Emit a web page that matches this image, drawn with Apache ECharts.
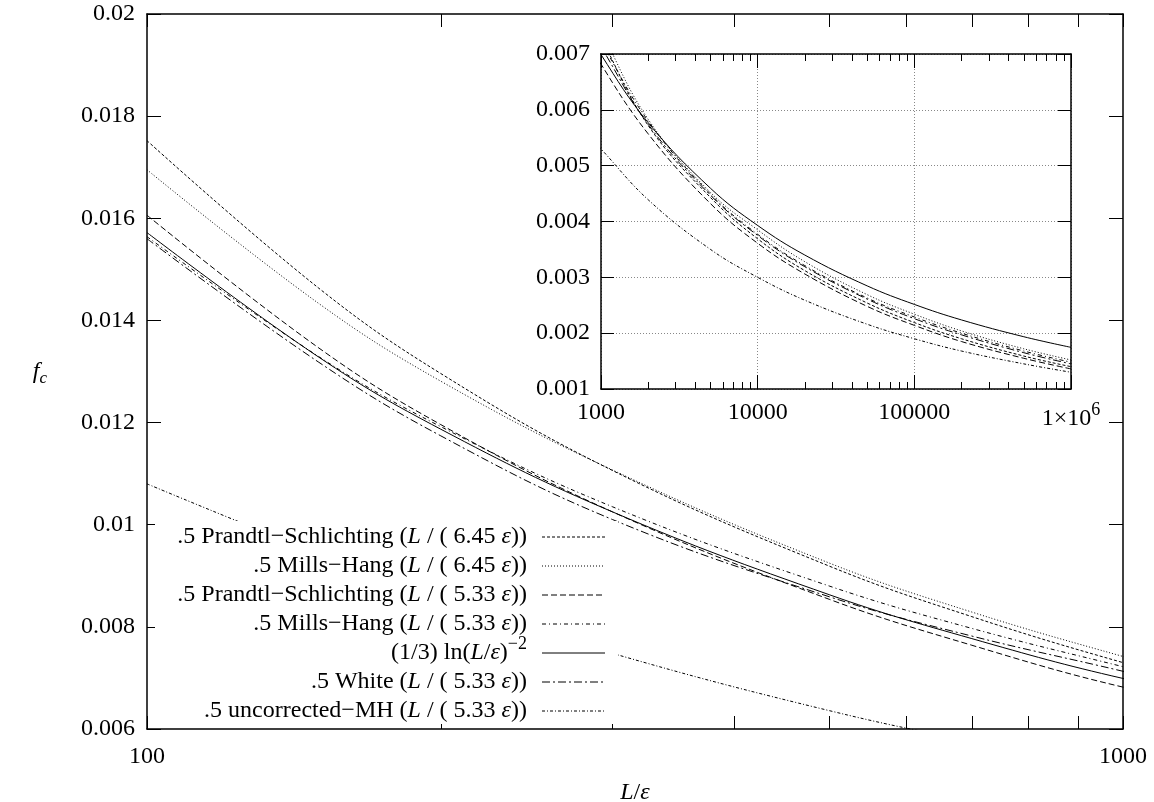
<!DOCTYPE html>
<html>
<head>
<meta charset="utf-8">
<script src="https://cdn.jsdelivr.net/npm/echarts@6/dist/echarts.min.js"></script>
<style>
  html, body { margin: 0; padding: 0; background: #fff; }
  #chart { width: 1154px; height: 802px; }
</style>
</head>
<body>
<div id="chart"></div>
<script>
// L/ε sample points shared by all curves (main panel 100–1000, inset 1000–1e6)
const lengthRatio = [100, 150, 200, 300, 500, 700, 1000, 2000, 5000, 1e4, 2e4, 5e4, 1e5, 2e5, 5e5, 1e6];

// f_c for each correlation at the sample points
const psWide      = [0.01752, 0.01463, 0.01296, 0.01106, 0.00919, 0.00820, 0.00730, 0.00572, 0.00443, 0.00369, 0.00312, 0.00254, 0.00219, 0.00190, 0.00159, 0.00140];
const mhWide      = [0.01695, 0.01433, 0.01281, 0.01107, 0.00925, 0.00829, 0.00742, 0.00583, 0.00452, 0.00385, 0.00328, 0.00269, 0.00234, 0.00204, 0.00172, 0.00152];
const psNarrow    = [0.01606, 0.01346, 0.01196, 0.01025, 0.00854, 0.00764, 0.00682, 0.00557, 0.00432, 0.00361, 0.00306, 0.00248, 0.00214, 0.00185, 0.00155, 0.00136];
const mhNarrow    = [0.01564, 0.01329, 0.01192, 0.01035, 0.00880, 0.00797, 0.00722, 0.00580, 0.00449, 0.00377, 0.00321, 0.00263, 0.00229, 0.00200, 0.00168, 0.00148];
const logFit      = [0.01572, 0.01328, 0.01187, 0.01025, 0.00863, 0.00777, 0.00699, 0.00577, 0.004595, 0.003929, 0.003399, 0.002847, 0.002515, 0.002237, 0.001936, 0.001746];
const whiteFit    = [0.01560, 0.01318, 0.01174, 0.01010, 0.00859, 0.00782, 0.00713, 0.00574, 0.00447, 0.00375, 0.00319, 0.00261, 0.00226, 0.00197, 0.00165, 0.00145];
const uncorrected = [0.01080, 0.00943, 0.00855, 0.00748, 0.00636, 0.00577, 0.00530, 0.00439, 0.00350, 0.00300, 0.00259, 0.00216, 0.00190, 0.00168, 0.00145, 0.00130];

const curveNames = [
  '.5 Prandtl−Schlichting (L / ( 6.45 ε))',
  '.5 Mills−Hang (L / ( 6.45 ε))',
  '.5 Prandtl−Schlichting (L / ( 5.33 ε))',
  '.5 Mills−Hang (L / ( 5.33 ε))',
  '(1/3) ln(L/ε)^−2',
  '.5 White (L / ( 5.33 ε))',
  '.5 uncorrected−MH (L / ( 5.33 ε))'
];
const curveValues = [psWide, mhWide, psNarrow, mhNarrow, logFit, whiteFit, uncorrected];

// tick values
const mainXLabels = [100, 1000];
const mainXTicks = [100, 200, 300, 400, 500, 600, 700, 800, 900, 1000];
const insetXMajor = [1000, 10000, 100000, 1000000];
const insetXMinor = [2000, 3000, 4000, 5000, 6000, 7000, 8000, 9000,
                     20000, 30000, 40000, 50000, 60000, 70000, 80000, 90000,
                     200000, 300000, 400000, 500000, 600000, 700000, 800000, 900000];

// line dash patterns, one per curve (null = solid)
const dashes = [[3, 2], [1, 2], [6, 3], [4, 3, 1, 3], null, [8, 3, 2, 3], [3, 2, 1, 2]];

const FONT = '"Liberation Serif", "Times New Roman", serif';
const FS = 24;
const richStyles = {
  i:   { fontStyle: 'italic', fontSize: FS, fontFamily: FONT, color: '#000' },
  sup: { fontSize: 18, fontFamily: FONT, color: '#000', padding: [0, 0, 18, 0] },
  sub: { fontStyle: 'italic', fontSize: 17, fontFamily: FONT, color: '#000', padding: [14, 0, 0, 0] },
  n:   { fontSize: FS, fontFamily: FONT, color: '#000' }
};

function richName(name) {
  let out = name.replace(/\^(.+)$/, '\u0001$1\u0002');
  out = out.replace(/[Lε]/g, m => '{i|' + m + '}');
  out = out.replace('\u0001', '{sup|').replace('\u0002', '}');
  return out;
}

const labelStyle = { color: '#000', fontFamily: FONT, fontSize: FS };
const tickStyle = { color: '#000', width: 1 };
const frame = { show: true, onZero: false, lineStyle: { color: '#000', width: 1.5 } };

const chart = echarts.init(document.getElementById('chart'), null, { renderer: 'canvas' });

const series = [];
curveNames.forEach((name, k) => {
  const pts = lengthRatio.map((x, j) => [x, curveValues[k][j]]);
  const ls = { color: '#000', width: 1, type: dashes[k] || 'solid' };
  series.push({
    name, type: 'line', xAxisIndex: 0, yAxisIndex: 0, data: pts,
    showSymbol: false, smooth: 0.4, clip: true,
    lineStyle: ls, emphasis: { disabled: true }, silent: true
  });
  series.push({
    name: name + ' ', type: 'line', xAxisIndex: 2, yAxisIndex: 2, data: pts,
    showSymbol: false, smooth: 0.4, clip: true,
    lineStyle: ls, emphasis: { disabled: true }, silent: true
  });
});

// key: opaque box with right-aligned titles and line samples
const keyTop = 537, keyStep = 29;
const graphic = [{
  type: 'rect', z: 100,
  shape: { x: 155, y: 521, width: 463, height: 203 },
  style: { fill: '#fff' }
}];
curveNames.forEach((name, k) => {
  const y = keyTop + k * keyStep;
  graphic.push({
    type: 'text', z: 101, x: 527, y: y,
    style: {
      text: richName(name), rich: richStyles,
      fontSize: FS, fontFamily: FONT, fill: '#000',
      align: 'right', verticalAlign: 'middle'
    }
  });
  graphic.push({
    type: 'line', z: 101,
    shape: { x1: 542, y1: y, x2: 605, y2: y },
    style: { stroke: '#000', lineWidth: 1, lineDash: dashes[k] || null }
  });
});

const option = {
  backgroundColor: '#fff',
  animation: false,
  grid: [
    { left: 147, top: 14, width: 976, height: 715, containLabel: false, outerBoundsMode: 'none' },
    { left: 601, top: 54, width: 470, height: 335, containLabel: false, outerBoundsMode: 'none',
      show: true, backgroundColor: '#fff', borderWidth: 0 }
  ],
  xAxis: [
    { // main bottom
      type: 'log', gridIndex: 0, min: 100, max: 1000, position: 'bottom',
      axisLine: frame,
      axisTick: { inside: true, length: 13, customValues: mainXTicks, lineStyle: tickStyle },
      axisLabel: { customValues: mainXLabels, margin: 16, ...labelStyle, formatter: v => String(Math.round(v)) },
      splitLine: { show: false }, minorTick: { show: false },
      name: '{i|L}{n|/}{i|ε}', nameLocation: 'middle', nameGap: 52,
      nameTextStyle: { rich: richStyles, fontSize: FS, fontFamily: FONT }
    },
    { // main top
      type: 'log', gridIndex: 0, min: 100, max: 1000, position: 'top',
      axisLine: frame,
      axisTick: { inside: true, length: 13, customValues: mainXTicks, lineStyle: tickStyle },
      axisLabel: { show: false }, splitLine: { show: false }
    },
    { // inset bottom, decades
      type: 'log', gridIndex: 1, min: 1000, max: 1000000, position: 'bottom',
      axisLine: frame,
      axisTick: { inside: true, length: 14, customValues: insetXMajor, lineStyle: tickStyle },
      axisLabel: {
        customValues: insetXMajor, margin: 12, ...labelStyle, rich: richStyles,
        formatter: v => {
          const r = Math.round(v);
          return r >= 1000000 ? '{n|1×10}{sup|6}' : String(r);
        }
      },
      splitLine: { show: true, lineStyle: { color: '#888', width: 1, type: [1, 2] } }
    },
    { // inset bottom, minor
      type: 'log', gridIndex: 1, min: 1000, max: 1000000, position: 'bottom',
      axisLine: { show: false },
      axisTick: { inside: true, length: 7, customValues: insetXMinor, lineStyle: tickStyle },
      axisLabel: { show: false }, splitLine: { show: false }
    },
    { // inset top, decades
      type: 'log', gridIndex: 1, min: 1000, max: 1000000, position: 'top',
      axisLine: frame,
      axisTick: { inside: true, length: 14, customValues: insetXMajor, lineStyle: tickStyle },
      axisLabel: { show: false }, splitLine: { show: false }
    },
    { // inset top, minor
      type: 'log', gridIndex: 1, min: 1000, max: 1000000, position: 'top',
      axisLine: { show: false },
      axisTick: { inside: true, length: 7, customValues: insetXMinor, lineStyle: tickStyle },
      axisLabel: { show: false }, splitLine: { show: false }
    }
  ],
  yAxis: [
    { // main left
      type: 'value', gridIndex: 0, min: 0.006, max: 0.02, interval: 0.002, position: 'left',
      axisLine: frame,
      axisTick: { inside: true, length: 14, lineStyle: tickStyle },
      axisLabel: { margin: 12, ...labelStyle, formatter: v => String(parseFloat(v.toFixed(4))) },
      splitLine: { show: false },
      name: '{i|f}{sub|c}', nameLocation: 'middle', nameRotate: 0, nameGap: 100,
      nameTextStyle: { rich: richStyles, fontSize: FS, fontFamily: FONT }
    },
    { // main right
      type: 'value', gridIndex: 0, min: 0.006, max: 0.02, interval: 0.002, position: 'right',
      axisLine: frame,
      axisTick: { inside: true, length: 14, lineStyle: tickStyle },
      axisLabel: { show: false }, splitLine: { show: false }
    },
    { // inset left
      type: 'value', gridIndex: 1, min: 0.001, max: 0.007, interval: 0.001, position: 'left',
      axisLine: frame,
      axisTick: { inside: true, length: 13, lineStyle: tickStyle },
      axisLabel: { margin: 11, ...labelStyle, formatter: v => String(parseFloat(v.toFixed(4))) },
      splitLine: { show: true, lineStyle: { color: '#888', width: 1, type: [1, 2] } }
    },
    { // inset right
      type: 'value', gridIndex: 1, min: 0.001, max: 0.007, interval: 0.001, position: 'right',
      axisLine: frame,
      axisTick: { inside: true, length: 13, lineStyle: tickStyle },
      axisLabel: { show: false }, splitLine: { show: false }
    }
  ],
  series,
  graphic
};

chart.setOption(option);
</script>
</body>
</html>
